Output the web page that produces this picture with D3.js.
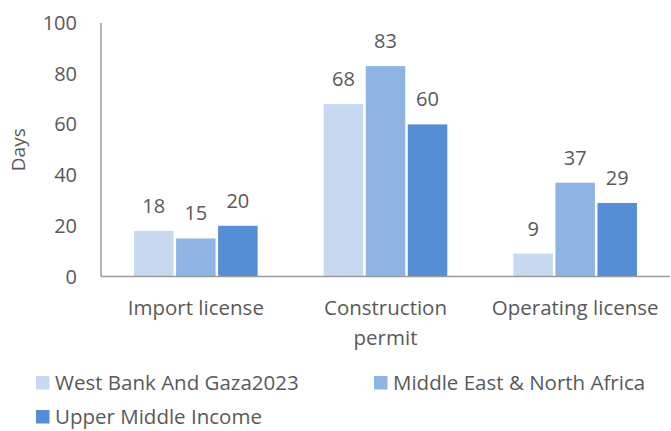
<!DOCTYPE html>
<html>
<head>
<script src="https://d3js.org/d3.v7.min.js"></script>
<style>
  body { margin: 0; background: #fff; }
  text { font-family: "Open Sans", sans-serif; fill: #595959; }
</style>
</head>
<body>
<script>
const categories = [['Import license'], ['Construction', 'permit'], ['Operating license']];
const seriesNames = ['West Bank And Gaza2023', 'Middle East & North Africa', 'Upper Middle Income'];
const westBank = [18, 68, 9];
const mena = [15, 83, 37];
const umi = [20, 60, 29];
const yTicks = [0, 20, 40, 60, 80, 100];
const colors = ['#c6d9f0', '#8eb4e3', '#558ed5'];

const W = 671, H = 431;
const plotL = 101, plotR = 670, plotT = 23, plotB = 276.5;

const svg = d3.select('body').append('svg').attr('width', W).attr('height', H);

const series = [westBank, mena, umi];
const x0 = d3.scaleBand().domain(d3.range(categories.length)).range([plotL, plotR]).paddingInner(0).paddingOuter(0);
const x1 = d3.scaleBand().domain(d3.range(series.length)).range([0, x0.bandwidth()]).paddingInner(0.06).paddingOuter(0.786);
const y = d3.scaleLinear().domain([0, 100]).range([plotB, plotT]);

// y tick labels
svg.append('g').selectAll('text').data(yTicks).enter().append('text')
  .attr('x', 77).attr('y', d => y(d)).attr('dy', '0.35em')
  .attr('text-anchor', 'end').style('font-size', '20px').text(d => d);

svg.append('text').attr('transform', `translate(25,${(plotT + plotB) / 2}) rotate(-90)`)
  .attr('text-anchor', 'middle').style('font-size', '19px').text('Days');

// bars
series.forEach((vals, si) => {
  svg.append('g').selectAll('rect').data(vals).enter().append('rect')
    .attr('x', (d, i) => x0(i) + x1(si))
    .attr('y', d => y(d))
    .attr('width', x1.bandwidth())
    .attr('height', d => y(0) - y(d))
    .attr('fill', colors[si]);
  svg.append('g').selectAll('text').data(vals).enter().append('text')
    .attr('x', (d, i) => x0(i) + x1(si) + x1.bandwidth() / 2)
    .attr('y', d => y(d) - 18)
    .attr('text-anchor', 'middle').style('font-size', '20px').text(d => d);
});

// axes lines
svg.append('line').attr('x1', plotL).attr('x2', plotL).attr('y1', plotT).attr('y2', plotB)
  .attr('stroke', '#9a9a9a').attr('stroke-width', 1.5);
svg.append('line').attr('x1', plotL).attr('x2', plotR).attr('y1', plotB).attr('y2', plotB)
  .attr('stroke', '#9a9a9a').attr('stroke-width', 1.5);

// category labels
categories.forEach((lines, i) => {
  const t = svg.append('text').attr('text-anchor', 'middle').style('font-size', '20.5px');
  lines.forEach((l, k) => {
    t.append('tspan').attr('x', x0(i) + x0.bandwidth() / 2).attr('y', 315 + k * 30).text(l);
  });
});

// legend
const legendPos = [[36, 383], [374, 383], [36, 417]];
seriesNames.forEach((n, i) => {
  const [lx, ly] = legendPos[i];
  svg.append('rect').attr('x', lx).attr('y', ly - 7).attr('width', 13.5).attr('height', 13.5).attr('fill', colors[i]);
  svg.append('text').attr('x', lx + 19).attr('y', ly).attr('dy', '0.35em')
    .style('font-size', '20.5px').text(n);
});
</script>
</body>
</html>
